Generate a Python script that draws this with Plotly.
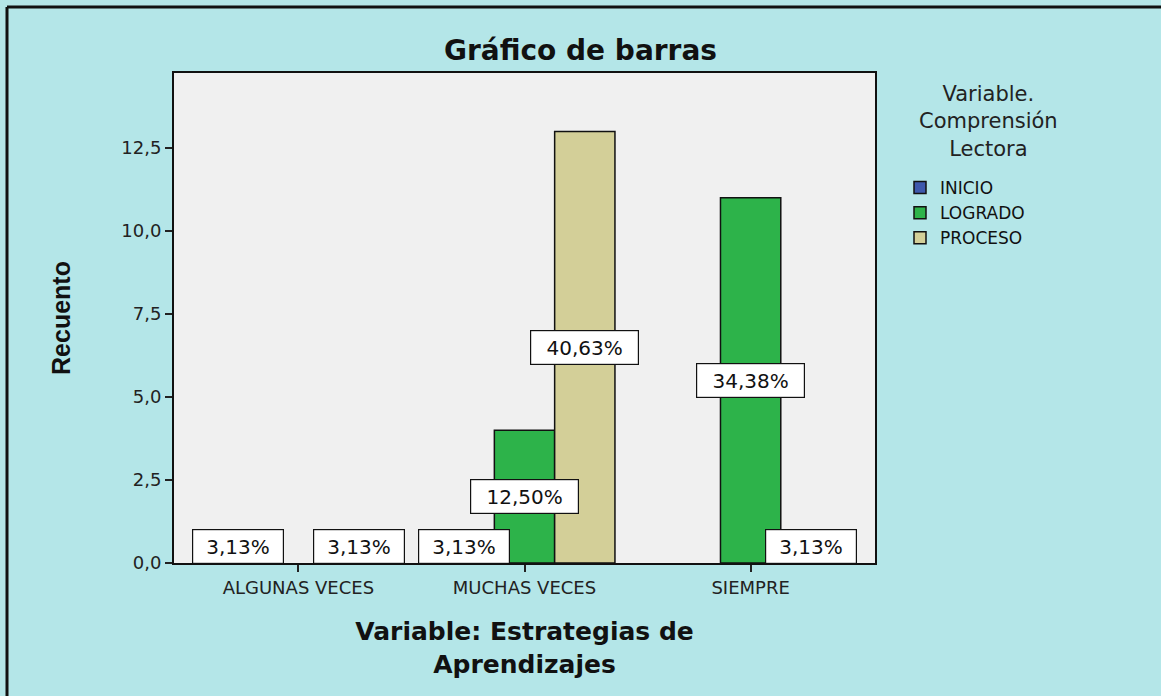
import plotly.graph_objects as go
from decimal import Decimal, ROUND_HALF_UP

categories = ["ALGUNAS VECES", "MUCHAS VECES", "SIEMPRE"]
series_names = ["INICIO", "LOGRADO", "PROCESO"]
inicio = [1, 1, 0]
logrado = [0, 4, 11]
proceso = [1, 13, 1]
colors = ["#3E58AC", "#2DB34A", "#D3CF98"]
y_ticks = [0, 2.5, 5.0, 7.5, 10.0, 12.5]

series_values = [inicio, logrado, proceso]
total = sum(sum(s) for s in series_values)

W, H = 1161, 696
L, R, T, B = 174, 286, 73, 133
BG = "#B4E6E8"

fig = go.Figure()
for name, vals, col in zip(series_names, series_values, colors):
    fig.add_trace(go.Bar(
        x=categories, y=[v if v else None for v in vals], name=name,
        marker=dict(color=col, line=dict(color="#111111", width=1.5)),
    ))

slot_px = (W - L - R) / 3.1 * 0.8 / 3  # width of one bar slot in pixels
annotations = []
for si, vals in enumerate(series_values):
    for ci, v in enumerate(vals):
        if v == 0:
            continue
        pct = (Decimal(v) * 100 / Decimal(total)).quantize(Decimal("0.01"), rounding=ROUND_HALF_UP)
        txt = f"{pct}%".replace(".", ",")
        annotations.append(dict(
            x=categories[ci], y=v / 2, xref="x", yref="y",
            xshift=(si - 1) * slot_px, text=txt, showarrow=False,
            font=dict(family="DejaVu Sans", size=20, color="#111111"),
            bgcolor="white", bordercolor="#111111", borderwidth=1.2,
            width=17.5 * len(txt), height=31, borderpad=1,
        ))

# legend title
annotations.append(dict(
    xref="paper", yref="paper", x=(988 - L) / (W - L - R), y=1 - (122 - T) / (H - T - B),
    text="Variable.<br>Comprensión<br>Lectora", showarrow=False, align="center",
    xanchor="center", yanchor="middle",
    font=dict(family="DejaVu Sans", size=21, color="#222222"),
))

fig.update_layout(
    width=W, height=H,
    margin=dict(l=L, r=R, t=T, b=B),
    paper_bgcolor=BG, plot_bgcolor="#F0F0F0",
    barmode="group", bargap=0.2, bargroupgap=0,
    separators=",.",
    title=dict(
        text="<b>Gráfico de barras</b>", xref="container", x=0.5, xanchor="center",
        yref="container", y=1 - 50 / H, yanchor="middle",
        font=dict(family="DejaVu Sans", size=28, color="#111111"),
    ),
    xaxis=dict(
        range=[-0.55, 2.55], showline=True, linecolor="#111111", linewidth=2, mirror=True,
        ticks="outside", ticklen=7, tickwidth=2, tickcolor="#222222",
        tickfont=dict(family="DejaVu Sans", size=18, color="#222222"),
        title=dict(text="<b>Variable: Estrategias de<br>Aprendizajes</b>", standoff=26,
                   font=dict(family="DejaVu Sans", size=25, color="#111111")),
        showgrid=False, fixedrange=True,
    ),
    yaxis=dict(
        range=[0, (H - T - B) / 33.2], showline=True, linecolor="#111111", linewidth=2, mirror=True,
        tickvals=y_ticks, tickformat=".1f",
        ticks="outside", ticklen=7, tickwidth=2, tickcolor="#222222",
        tickfont=dict(family="DejaVu Sans", size=18, color="#222222"),
        title=dict(text="<b>Recuento</b>", standoff=44,
                   font=dict(family="Liberation Sans", size=25, color="#111111")),
        showgrid=False, zeroline=False, fixedrange=True,
    ),
    legend=dict(
        xref="container", yref="container", x=900 / W, xanchor="left",
        y=1 - 170 / H, yanchor="top", bgcolor="rgba(0,0,0,0)",
        font=dict(family="DejaVu Sans", size=17, color="#111111"),
        tracegroupgap=0, itemclick=False,
    ),
    annotations=annotations,
    shapes=[dict(
        type="line", xref="paper", yref="paper",
        x0=(7 - L) / (W - L - R), x1=(7 - L) / (W - L - R),
        y0=1 + (T - 7) / (H - T - B), y1=-(B + 20) / (H - T - B),
        line=dict(color="#111111", width=3),
    ), dict(
        type="line", xref="paper", yref="paper",
        x0=(7 - L) / (W - L - R), x1=(W + 20 - L) / (W - L - R),
        y0=1 + (T - 7) / (H - T - B), y1=1 + (T - 7) / (H - T - B),
        line=dict(color="#111111", width=3),
    )],
)

fig.write_html(
    "out.html",
    config={"displayModeBar": False},
    post_script="document.body.style.margin='0';document.body.style.overflow='hidden';",
)
